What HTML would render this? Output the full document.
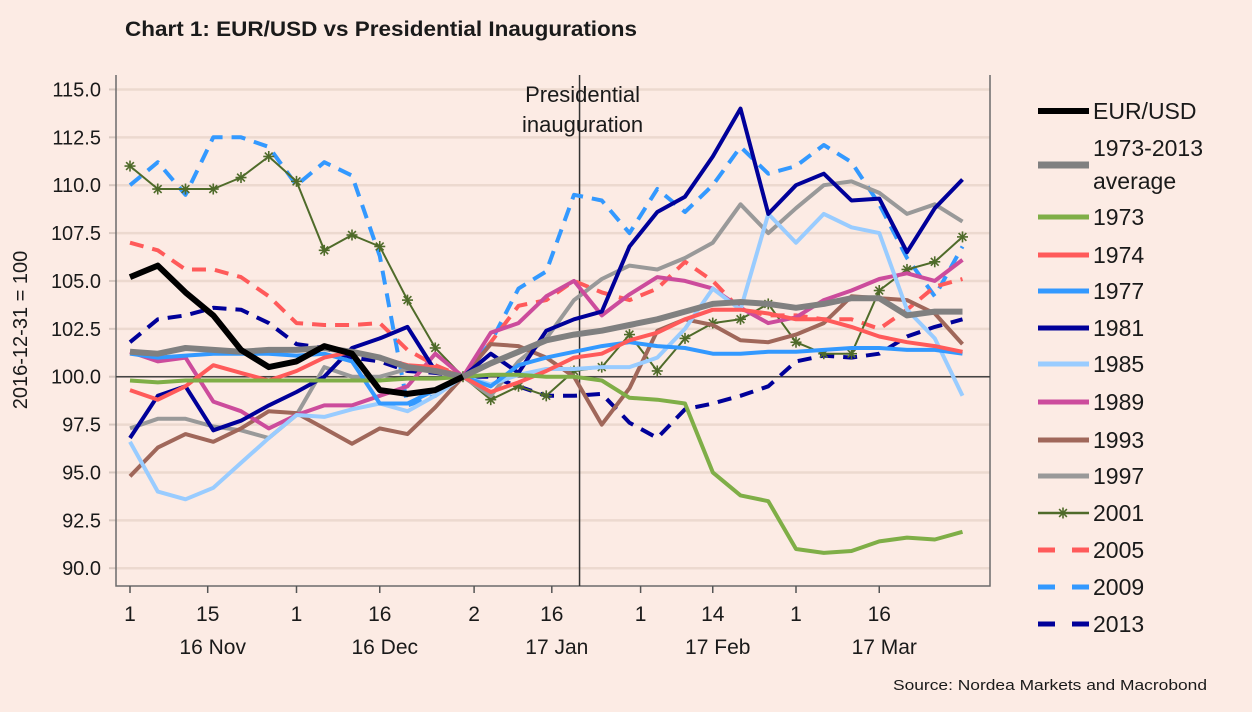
<!DOCTYPE html>
<html><head><meta charset="utf-8">
<style>
html,body{margin:0;padding:0;background:#fcebe4;}
body{width:1252px;height:707px;overflow:hidden;font-family:"Liberation Sans",sans-serif;}
svg text{font-family:"Liberation Sans",sans-serif;fill:#1a1a1a;}
</style></head>
<body>
<svg id="chart" width="1252" height="707" viewBox="0 0 1252 707" xmlns="http://www.w3.org/2000/svg">
<rect width="1252" height="707" fill="#fcebe4"/>
<text x="125" y="36" font-size="21" font-weight="bold" textLength="512" lengthAdjust="spacingAndGlyphs">Chart 1: EUR/USD vs Presidential Inaugurations</text>
<text x="893" y="690" font-size="15" textLength="314" lengthAdjust="spacingAndGlyphs">Source: Nordea Markets and Macrobond</text>
<text transform="translate(27,330) rotate(-90)" font-size="20" text-anchor="middle">2016-12-31 = 100</text>
<g id="grid"></g>
<g id="axes"></g>
<g id="series"></g>
<g id="legend"></g>
</svg>
<script>
const days = [0,5,10,15,20,25,30,35,40,45,50,55,60,65,70,75,80,85,90,95,100,105,110,115,120,125,130,135,140,145,150];
const yTicks = [90,92.5,95,97.5,100,102.5,105,107.5,110,112.5,115];
const xTickDays = [0,14,30,45,62,76,92,105,120,135];
const xTickLabels = ["1","15","1","16","2","16","1","14","1","16"];
const monthLabels = ["16 Nov","16 Dec","17 Jan","17 Feb","17 Mar"];
const monthDays = [14,45,76,105,135];
const inaugurationDay = 81;

const eurusd = [105.2,105.8,104.4,103.2,101.4,100.5,100.8,101.6,101.2,99.3,99.1,99.3,100,null,null,null,null,null,null,null,null,null,null,null,null,null,null,null,null,null,null];
const avg = [101.3,101.2,101.5,101.4,101.3,101.4,101.4,101.5,101.3,101.0,100.5,100.3,100,100.7,101.3,101.9,102.2,102.4,102.7,103.0,103.4,103.8,103.9,103.8,103.6,103.8,104.1,104.1,103.2,103.4,103.4];
const s1973 = [99.8,99.7,99.8,99.8,99.8,99.8,99.8,99.8,99.8,99.8,99.9,99.9,100,100.1,100.1,100,100,99.8,98.9,98.8,98.6,95.0,93.8,93.5,91.0,90.8,90.9,91.4,91.6,91.5,91.9];
const s1974 = [99.3,98.8,99.5,100.6,100.2,99.8,100.3,101.0,101.3,101.0,100.6,100.5,100,99.2,99.7,100.3,101.0,101.2,101.9,102.3,103.0,103.5,103.5,103.3,103.0,103.0,102.6,102.1,101.8,101.6,101.3];
const s1977 = [101.2,101.0,101.1,101.2,101.2,101.2,101.1,101.2,100.8,98.6,98.6,99.3,100,99.5,100.6,101.0,101.3,101.6,101.8,101.6,101.5,101.2,101.2,101.3,101.3,101.4,101.5,101.5,101.4,101.4,101.2];
const s1981 = [96.8,99.0,99.5,97.2,97.7,98.5,99.2,100.0,101.5,102.0,102.6,100.3,100,101.2,100.2,102.4,103.0,103.4,106.8,108.6,109.4,111.5,114.0,108.5,110.0,110.6,109.2,109.3,106.5,108.8,110.3];
const s1985 = [96.6,94.0,93.6,94.2,95.5,96.8,98.0,97.9,98.3,98.6,98.2,99.0,100,99.6,100.1,100.4,100.4,100.5,100.5,101.0,102.5,104.6,103.5,108.5,107.0,108.5,107.8,107.5,103.5,102.0,99.0];
const s1989 = [101.3,100.8,101.0,98.7,98.2,97.3,98.0,98.5,98.5,99.0,99.5,101.2,100,102.3,102.8,104.2,105.0,103.2,104.3,105.2,105.0,104.6,103.6,102.8,103.1,104.0,104.5,105.1,105.4,105.0,106.1];
const s1993 = [94.8,96.3,97.0,96.6,97.3,98.2,98.1,97.3,96.5,97.3,97.0,98.4,100,101.7,101.6,101.0,100.0,97.5,99.4,102.4,103.0,102.7,101.9,101.8,102.2,102.8,104.2,104.1,104.0,103.3,101.7];
const s1997 = [97.3,97.8,97.8,97.4,97.2,96.8,98.0,100.5,100.0,100.0,100.4,100.5,100,99.0,100.8,102.0,104.0,105.1,105.8,105.6,106.2,107.0,109.0,107.5,108.8,110.0,110.2,109.6,108.5,109.0,108.1];
const s2001 = [111.0,109.8,109.8,109.8,110.4,111.5,110.2,106.6,107.4,106.8,104.0,101.5,100,98.8,99.5,99.0,100.3,100.5,102.2,100.3,102.0,102.8,103.0,103.8,101.8,101.2,101.2,104.5,105.6,106.0,107.3];
const s2005 = [107.0,106.6,105.6,105.6,105.2,104.2,102.8,102.7,102.7,102.8,101.4,100.6,100,101.8,103.7,104.0,105.0,104.4,104.0,104.6,106.0,105.0,103.5,103.2,103.2,103.0,103.0,102.5,103.5,104.7,105.1];
const s2009 = [110.0,111.2,109.5,112.5,112.5,112.0,110.0,111.2,110.5,106.3,98.5,99.0,100,101.8,104.6,105.5,109.5,109.2,107.5,109.8,108.6,110.0,112.0,110.6,111.0,112.1,111.2,109.0,106.2,104.2,106.8];
const s2013 = [101.8,103.0,103.2,103.6,103.5,102.8,101.7,101.5,101.0,100.8,100.3,100.2,100,100.0,99.5,99.0,99.0,99.1,97.6,96.8,98.3,98.6,99.0,99.5,100.8,101.1,101.0,101.2,102.1,102.6,103.0];

const NS="http://www.w3.org/2000/svg";
const PL=116, PR=990, PT=75, PB=586;
function xDay(d){return 130 + d*5.55;}
function yVal(v){return 376.7 - (v-100)*19.15;}
function mk(tag,attrs,parent){const e=document.createElementNS(NS,tag);for(const k in attrs)e.setAttribute(k,attrs[k]);parent.appendChild(e);return e;}

const grid=document.getElementById('grid'), axes=document.getElementById('axes'), sg=document.getElementById('series'), lg=document.getElementById('legend');

yTicks.forEach(v=>{
  const y=yVal(v);
  const gl=mk('line',{x1:PL,x2:PR,y1:y,y2:y,stroke:'#ecd9cf','stroke-width':2.5},grid);
  
  
  const tk=mk('line',{x1:PL-7,x2:PL,y1:y,y2:y,stroke:'#d8c8c0','stroke-width':2},axes);
  
  
  const t=mk('text',{x:101,y:y+7,'font-size':20,'text-anchor':'end'},axes);
  t.textContent=v.toFixed(1);
  
  
});
const ax=mk('path',{d:`M${PL},${PT} V${PB} H${PR} V${PT}`,fill:'none',stroke:'#6b6b6b','stroke-width':1.5},axes);


const zl=mk('line',{x1:PL,x2:PR,y1:yVal(100),y2:yVal(100),stroke:'#444','stroke-width':1.5},axes);


const il=mk('line',{x1:xDay(inaugurationDay),x2:xDay(inaugurationDay),y1:PT,y2:PB,stroke:'#333','stroke-width':1.5},axes);


const ia=mk('text',{x:xDay(inaugurationDay)+3,y:102,'font-size':22,'text-anchor':'middle'},axes);
ia.textContent='Presidential';


const ib=mk('text',{x:xDay(inaugurationDay)+3,y:132,'font-size':22,'text-anchor':'middle'},axes);
ib.textContent='inauguration';



xTickDays.forEach((d,i)=>{
  const x=xDay(d);
  const tk=mk('line',{x1:x,x2:x,y1:PB,y2:PB+7,stroke:'#555','stroke-width':1.5},axes);
  
  
  const t=mk('text',{x:x,y:621,'font-size':21,'text-anchor':'middle'},axes);
  t.textContent=xTickLabels[i];
  
  
});
monthDays.forEach((d,i)=>{
  const t=mk('text',{x:xDay(d)+5,y:654,'font-size':21,'text-anchor':'middle'},axes);
  t.textContent=monthLabels[i];
  
  
});

const series=[
  {name:'2013',data:s2013,color:'#000099',w:4,dash:'14 9'},
  {name:'2009',data:s2009,color:'#3399ff',w:4,dash:'14 9'},
  {name:'2005',data:s2005,color:'#ff5a5a',w:4,dash:'14 9'},
  {name:'2001',data:s2001,color:'#4f6b2a',w:2,star:true},
  {name:'1997',data:s1997,color:'#999999',w:4},
  {name:'1993',data:s1993,color:'#a0675a',w:4},
  {name:'1989',data:s1989,color:'#cc4c9c',w:4},
  {name:'1985',data:s1985,color:'#99ccff',w:4},
  {name:'1981',data:s1981,color:'#000099',w:4},
  {name:'1977',data:s1977,color:'#3399ff',w:4},
  {name:'1974',data:s1974,color:'#ff5a5a',w:4},
  {name:'1973',data:s1973,color:'#7fae47',w:4},
  {name:'1973-2013 average',data:avg,color:'#808080',w:6},
  {name:'EUR/USD',data:eurusd,color:'#000000',w:6}
];
function star(x,y,c,parent){
  const g=mk('g',{stroke:c,'stroke-width':1.6},parent);
  
  
  for(let a=0;a<4;a++){const r=a*Math.PI/4,dx=Math.cos(r)*5.5,dy=Math.sin(r)*5.5;
    mk('line',{x1:x-dx,y1:y-dy,x2:x+dx,y2:y+dy},g);}
}
series.forEach(s=>{
  const pts=[];
  s.data.forEach((v,i)=>{if(v!==null)pts.push([xDay(days[i]),yVal(v)]);});
  const p=mk('polyline',{points:pts.map(p=>p[0].toFixed(1)+','+p[1].toFixed(1)).join(' '),fill:'none',stroke:s.color,'stroke-width':s.w,'stroke-linejoin':'round'},sg);
  if(s.dash)p.setAttribute('stroke-dasharray',s.dash);
  
  
  if(s.star)pts.forEach(q=>star(q[0],q[1],s.color,sg));
});

const legendItems=[
  {label:['EUR/USD'],color:'#000000',w:6,y:111},
  {label:['1973-2013','average'],color:'#808080',w:7,y:165},
  {label:['1973'],color:'#7fae47',w:5,y:217},
  {label:['1974'],color:'#ff5a5a',w:5,y:255},
  {label:['1977'],color:'#3399ff',w:5,y:291},
  {label:['1981'],color:'#000099',w:5,y:328},
  {label:['1985'],color:'#99ccff',w:5,y:364},
  {label:['1989'],color:'#cc4c9c',w:5,y:402},
  {label:['1993'],color:'#a0675a',w:5,y:440},
  {label:['1997'],color:'#999999',w:5,y:476},
  {label:['2001'],color:'#4f6b2a',w:2.5,y:513,star:true},
  {label:['2005'],color:'#ff5a5a',w:5,y:550,dash:'17 17'},
  {label:['2009'],color:'#3399ff',w:5,y:587,dash:'17 17'},
  {label:['2013'],color:'#000099',w:5,y:624,dash:'17 17'}
];
legendItems.forEach(it=>{
  const g=mk('g',{},lg);
  
  
  const l=mk('line',{x1:1038,x2:1089,y1:it.y,y2:it.y,stroke:it.color,'stroke-width':it.w},g);
  if(it.dash)l.setAttribute('stroke-dasharray',it.dash);
  if(it.star)star(1063,it.y,it.color,g);
  if(it.label.length===1){
    const t=mk('text',{x:1093,y:it.y+8,'font-size':23},g);t.textContent=it.label[0];
  } else {
    const t=mk('text',{x:1093,y:it.y-9,'font-size':23},g);t.textContent=it.label[0];
    const t2=mk('text',{x:1093,y:it.y+24,'font-size':23},g);t2.textContent=it.label[1];
  }
});
</script>
</body></html>
